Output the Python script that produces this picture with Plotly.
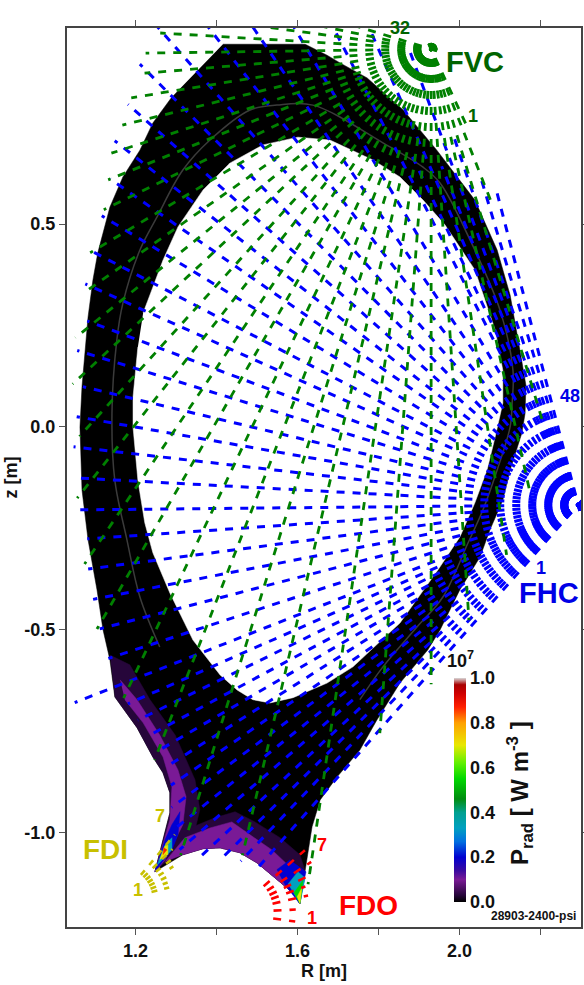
import numpy as np
import plotly.graph_objects as go

FONT = "Liberation Sans"

# plasma outline (R, z in metres)
outer_R = [1.416,1.619,1.673,1.705,1.772,1.861,1.944,1.994,2.038,2.093,2.125,2.149,2.164,2.162,2.154,2.125,2.107,2.075,2.051,2.001,1.952,1.922,1.853,1.796,1.754,1.698,1.656,1.636,1.626,1.606,1.589,1.540,1.500,1.458,1.409,1.367,1.317,1.248,1.268,1.285,1.285,1.268,1.243,1.204,1.149,1.137,1.120,1.105,1.083,1.068,1.063,1.068,1.083,1.095,1.107,1.137,1.169,1.211,1.243,1.290]
outer_z = [.943,.943,.916,.897,.860,.781,.682,.616,.559,.436,.325,.190,.103,.034,-.015,-.106,-.180,-.254,-.320,-.401,-.500,-.549,-.631,-.722,-.796,-.862,-.919,-.985,-1.049,-1.175,-1.148,-1.108,-1.074,-1.049,-1.037,-1.039,-1.054,-1.096,-1.017,-.951,-.901,-.852,-.813,-.741,-.665,-.574,-.500,-.401,-.278,-.155,0,.099,.271,.362,.429,.542,.616,.682,.749,.813]
inner_R = [1.219,1.268,1.305,1.367,1.433,1.515,1.601,1.680,1.786,1.853,1.910,1.964,2.038,2.088,2.107,2.107,2.088,2.068,2.038,2.001,1.947,1.890,1.853,1.737,1.673,1.589,1.532,1.490,1.451,1.409,1.342,1.285,1.243,1.223,1.206,1.194,1.194,1.206]
inner_z = [.281,.411,.493,.584,.650,.695,.714,.707,.658,.616,.559,.498,.387,.239,.140,.059,-.025,-.106,-.187,-.271,-.352,-.433,-.483,-.591,-.631,-.667,-.680,-.672,-.648,-.611,-.525,-.409,-.310,-.236,-.131,0,.074,.197]
mid_R = [1.260,1.211,1.179,1.149,1.142,1.154,1.169,1.211,1.253,1.317,1.384,1.483,1.549,1.638,1.811,1.910,1.952,2.026,2.100,2.132,2.130,2.125,2.093,2.058,2.021,1.959,1.895,1.811,1.754]
mid_z = [-.542,-.419,-.278,-.131,.034,.214,.305,.436,.517,.633,.707,.781,.793,.793,.700,.640,.601,.461,.288,.140,.059,0,-.106,-.204,-.286,-.419,-.493,-.591,-.672]

# radiation patches: (R list, z list, level)
floor_edge_R = [1.606,1.589,1.540,1.500,1.458,1.409,1.367,1.317]
floor_edge_z = [-1.175,-1.148,-1.108,-1.074,-1.049,-1.037,-1.039,-1.054]
leg_dark_R = [1.137,1.186,1.236,1.298,1.347,1.359,1.347,1.285,1.248,1.268,1.285,1.285,1.268,1.243,1.204,1.149]
leg_dark_z = [-.562,-.586,-.672,-.759,-.869,-.943,-.993,-1.062,-1.096,-1.017,-.951,-.901,-.852,-.813,-.741,-.665]
leg_bright_R = [1.162,1.204,1.260,1.305,1.325,1.317,1.273,1.248,1.285,1.290,1.268,1.219,1.174]
leg_bright_z = [-.623,-.672,-.759,-.845,-.911,-.980,-1.067,-1.096,-.968,-.887,-.813,-.729,-.672]
floor_dark_R = [1.260,1.298,1.335,1.396,1.446,1.495,1.557,1.606,1.618] + floor_edge_R
floor_dark_z = [-1.081,-1.030,-.988,-.963,-.948,-.973,-1.012,-1.054,-1.091] + floor_edge_z
floor_bright_R = [1.273,1.322,1.384,1.438,1.483,1.537,1.594] + floor_edge_R
floor_bright_z = [-1.071,-1.012,-.988,-.973,-1.005,-1.042,-1.096] + floor_edge_z
patches = [
    (leg_dark_R, leg_dark_z, 0.03), (floor_dark_R, floor_dark_z, 0.03),
    (leg_bright_R, leg_bright_z, 0.1), (floor_bright_R, floor_bright_z, 0.1),
    ([1.248,1.273,1.290,1.310,1.305,1.290], [-1.096,-1.017,-.980,-.948,-1.005,-1.042], 0.2),
    ([1.253,1.273,1.290,1.290], [-1.081,-1.030,-1.012,-1.042], 0.33),
    ([1.260,1.273,1.280,1.280], [-1.066,-1.032,-1.030,-1.054], 0.7),
    ([1.268,1.270,1.278], [-1.054,-1.037,-1.042], 0.87),
    ([1.549,1.581,1.621,1.614,1.606,1.569], [-1.091,-1.067,-1.096,-1.128,-1.175,-1.128], 0.2),
    ([1.577,1.601,1.619,1.606], [-1.126,-1.096,-1.111,-1.175], 0.33),
    ([1.591,1.614,1.606], [-1.148,-1.116,-1.175], 0.55),
    ([1.599,1.611,1.606], [-1.158,-1.135,-1.175], 0.7),
]
color_stops = [(0,"#000000"),(0.03,"#26063a"),(0.1,"#7a1a96"),(0.14,"#3a0aa0"),(0.2,"#0000d0"),(0.27,"#0070e0"),(0.33,"#00a0c0"),(0.4,"#00a090"),(0.46,"#008c10"),(0.55,"#00d800"),(0.62,"#60f000"),(0.7,"#e8e800"),(0.8,"#ffa000"),(0.87,"#ff2000"),(0.93,"#d00000"),(0.97,"#a80000"),(1,"#d8d8d8")]
level_color = dict(color_stops)

# FHC chords: one origin, chord angle below horizontal (deg), chord length (m)
fhc_origin = (2.293, -0.192)
fhc_angle = [48.5,46.5,44.7,42.9,40.8,38.7,36.6,34.5,32.4,30.3,28.2,26.0,23.8,21.4,18.07,14.5,11.0,7.44,3.95,0.57,-3.07,-6.55,-9.96,-13.4,-17.1,-20.5,-24.1,-27.5,-31.2,-34.8,-38.1,-41.6,-45.1,-48.6,-52.2,-55.7,-59.2,-62.8,-64.5,-66.3,-68.0,-69.6,-71.3,-73.4,-75.4]
fhc_len = [1.20,1.21,1.235,1.275,1.30,1.285,1.25,1.22,1.20,1.20,1.205,1.21,1.215,1.335,1.22,1.22,1.22,1.22,1.215,1.24,1.247,1.254,1.257,1.257,1.294,1.294,1.333,1.363,1.375,1.407,1.454,1.486,1.533,1.58,1.60,1.60,1.48,1.38,0.95,1.28,0.9,1.205,0.97,0.845,0.81]

# FVC chords: one origin, angle from straight down (deg, + towards larger R), length (m)
fvc_origin = (1.930, 0.931)
fvc_angle = [24.9,21.5,16.7,12.6,8.5,3.8,0,-4.3,-8.4,-13.2,-17.3,-21.3,-25.4,-30,-34,-38.3,-42.3,-47,-51,-55,-59.2,-63.9,-68,-72,-76.2,-80.8,-85.2,-89.2,-93.4,-97.6,-101.8,-107]
fvc_len = [0.21,0.40,0.97,1.12,1.26,1.41,1.565,1.69,2.08,2.04,2.08,1.88,1.77,1.65,1.53,1.41,1.29,1.21,1.13,1.05,0.98,0.90,0.86,0.83,0.785,0.75,0.71,0.705,0.67,0.7,0.6,0.4]
chord_back = 0.015

# FDO and FDI chords: origin, angle above horizontal (deg), chord start and end distance (m)
fdo_origin = (1.441, -1.197)
fdo_angle = [-8,3,13,20,26,33,41]
fdo_end = [0.155,0.155,0.19,0.19,0.21,0.23,0.235]
fdo_start = [0.10,0.10,0.10,0.10,0.10,0.10,0.10]
fdi_origin = (1.162, -1.165)
fdi_angle = [14,20,26,32,38,44,50]
fdi_end = [0.125,0.125,0.13,0.155,0.16,0.18,0.21]
fdi_start = [0.08,0.08,0.08,0.08,0.08,0.08,0.08]

cbar_ticks = [0.0,0.2,0.4,0.6,0.8,1.0]
r_ticks = [1.2,1.4,1.6,1.8,2.0,2.2]
r_text = ["1.2","","1.6","","2.0",""]
z_ticks = [0.5,0.0,-0.5,-1.0]
z_text = ["0.5","0.0","-0.5","-1.0"]

labels = [
    ("FVC",2.038,0.899,29,"#006400"),("1",2.033,0.766,18,"#006400"),
    ("FHC",2.221,-0.409,29,"#0000e6"),("48",2.273,0.076,18,"#0000e6"),("1",2.2,-0.347,18,"#0000e6"),
    ("FDI",1.127,-1.042,28,"#c8c000"),("7",1.26,-0.958,18,"#c8c000"),("1",1.206,-1.14,18,"#c8c000"),
    ("FDO",1.776,-1.18,28,"#ff0000"),("7",1.66,-1.03,18,"#ff0000"),("1",1.636,-1.209,18,"#ff0000"),
]

fig = go.Figure()

def poly(R, z, color):
    fig.add_trace(go.Scatter(x=R, y=z, mode="lines", fill="toself", fillcolor=color,
                             line=dict(color=color, width=0.5), hoverinfo="skip", showlegend=False))

poly(outer_R, outer_z, "#000000")
for R, z, lev in patches:
    poly(R, z, level_color[lev] if lev in level_color else "#000000")
poly(inner_R, inner_z, "#ffffff")
fig.add_trace(go.Scatter(x=mid_R, y=mid_z, mode="lines", line=dict(color="rgba(170,170,170,0.35)", width=1.5, shape="spline"),
                         hoverinfo="skip", showlegend=False))

def chord(x0, y0, x1, y1, color, dash, width):
    fig.add_trace(go.Scatter(x=[x0, x1], y=[y0, y1], mode="lines",
                             line=dict(color=color, dash=dash, width=width),
                             hoverinfo="skip", showlegend=False))

for a, L in zip(fhc_angle, fhc_len):
    t = np.radians(a)
    c, s = np.cos(t), np.sin(t)
    chord(fhc_origin[0]+chord_back*c, fhc_origin[1]+chord_back*s, fhc_origin[0]-L*c, fhc_origin[1]-L*s, "#0000ff", "8px,8px", 3)
for a, L in zip(fvc_angle, fvc_len):
    t = np.radians(a)
    c, s = np.cos(t), np.sin(t)
    chord(fvc_origin[0]-chord_back*s, fvc_origin[1]+chord_back*c, fvc_origin[0]+L*s, fvc_origin[1]-L*c, "#008000", "8px,8px", 2.8)
for a, s, e in zip(fdo_angle, fdo_start, fdo_end):
    t = np.radians(a)
    chord(fdo_origin[0]+s*np.cos(t), fdo_origin[1]+s*np.sin(t), fdo_origin[0]+e*np.cos(t), fdo_origin[1]+e*np.sin(t), "#ff0000", "8px,8px", 2.6)
for a, s, e in zip(fdi_angle, fdi_start, fdi_end):
    t = np.radians(a)
    chord(fdi_origin[0]+s*np.cos(t), fdi_origin[1]+s*np.sin(t), fdi_origin[0]+e*np.cos(t), fdi_origin[1]+e*np.sin(t), "#c8c000", "6px,7px", 2.6)

fig.add_trace(go.Scatter(x=[None], y=[None], mode="markers", hoverinfo="skip", showlegend=False,
    marker=dict(color=[0,1], cmin=0, cmax=1, showscale=True,
                colorscale=[[v,c] for v,c in color_stops],
                colorbar=dict(x=0.753, xanchor="left", y=0.028, yanchor="bottom", len=0.249, lenmode="fraction",
                              thickness=12, xpad=0, ypad=0, outlinewidth=0, tickvals=cbar_ticks,
                              ticktext=["%.1f" % v for v in cbar_ticks], ticks="",
                              tickfont=dict(family=FONT, size=18, color="#111111", weight=700)))))

for text, x, y, size, color in labels:
    fig.add_annotation(x=x, y=y, text=text, showarrow=False, xref="x", yref="y",
                       font=dict(family=FONT, size=size, color=color, weight=700))
fig.add_annotation(x=0.648, y=1.013, xref="paper", yref="paper", text="32", showarrow=False,
                   font=dict(family=FONT, size=18, color="#006400", weight=700))
fig.add_annotation(x=0.795, y=0.282, xref="paper", yref="paper", text="10<sup>7</sup>", showarrow=False,
                   font=dict(family=FONT, size=18, color="#111111", weight=700))
fig.add_annotation(x=0.917, y=0.067, xref="paper", yref="paper", text="P<sub>rad</sub> [ W m<sup>-3</sup> ]", showarrow=False,
                   textangle=-90, font=dict(family=FONT, size=24, color="#111111", weight=700))
fig.add_annotation(x=0.995, y=0.002, xref="paper", yref="paper", text="28903-2400-psi", showarrow=False,
                   xanchor="right", yanchor="bottom", font=dict(family=FONT, size=12, color="#111111", weight=700))

axis = dict(showgrid=False, zeroline=False, showline=True, linecolor="#444444", linewidth=2, mirror="ticks",
            ticks="outside", ticklen=6, tickwidth=1, tickcolor="#555555",
            tickfont=dict(family=FONT, size=18, color="#111111", weight=700))
fig.update_layout(
    width=584, height=985, margin=dict(l=67, r=3, t=28, b=58, pad=0, autoexpand=False),
    paper_bgcolor="white", plot_bgcolor="white", showlegend=False,
    xaxis=dict(axis, range=[1.031, 2.3], tickmode="array", tickvals=r_ticks, ticktext=r_text,
               title=dict(text="R [m]", standoff=4, font=dict(family=FONT, size=18, color="#111111", weight=700))),
    yaxis=dict(axis, range=[-1.232, 0.983], tickmode="array", tickvals=z_ticks, ticktext=z_text,
               title=dict(text="z [m]", standoff=2, font=dict(family=FONT, size=18, color="#111111", weight=700))),
)
fig.write_html("out.html", post_script="document.body.style.margin='0';", config=dict(displayModeBar=False))
